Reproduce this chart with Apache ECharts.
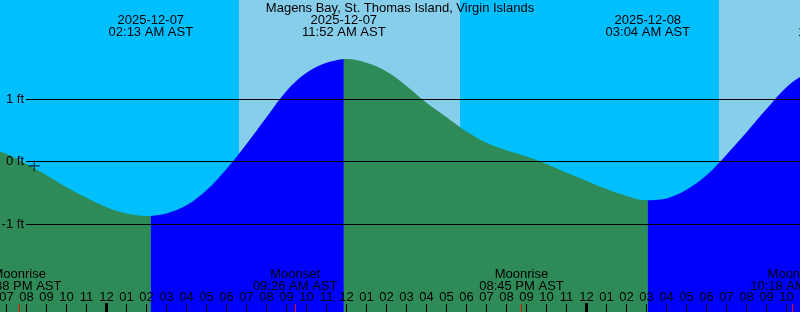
<!DOCTYPE html>
<html>
<head>
<meta charset="utf-8">
<script src="https://cdn.jsdelivr.net/npm/echarts@6.0.0/dist/echarts.min.js"></script>
<style>
html,body{margin:0;padding:0;background:#00BFFF;}
#chart{width:800px;height:312px;}
</style>
</head>
<body>
<div id="chart"></div>
<script>
// ---- Data (time in hours since 2025-12-07 00:00 AST, level in feet) ----
const stationName = 'Magens Bay, St. Thomas Island, Virgin Islands';
const tideHours = [-6,-5,-4,-3,-2,-1,0,1,2,3,4,5,6,7,8,9,10,11,12,13,14,15,16,17,18,19,20,21,22,23,24,25,26,27,28,29,30,31,32,33,34,35];
const tideLevels = [0.23,0.12,-0.04,-0.22,-0.41,-0.58,-0.73,-0.83,-0.87,-0.83,-0.70,-0.46,-0.12,0.28,0.71,1.13,1.42,1.58,1.64,1.58,1.44,1.21,0.94,0.71,0.48,0.30,0.18,0.08,-0.04,-0.18,-0.31,-0.44,-0.55,-0.62,-0.59,-0.45,-0.22,0.11,0.47,0.84,1.19,1.40];
const extremeTimes = [2.217, 11.867, 27.067, 36.683];
const extremeLevels = [-0.87, 1.64, -0.62, 1.52];
const extremeDates = ['2025-12-07','2025-12-07','2025-12-08','2025-12-08'];
const extremeClock = ['02:13 AM AST','11:52 AM AST','03:04 AM AST','12:41 PM AST'];
const moonTimes = [-4.367, 9.433, 20.75, 34.3];
const moonNames = ['Moonrise','Moonset','Moonrise','Moonset'];
const moonClock = ['07:38 PM AST','09:26 AM AST','08:45 PM AST','10:18 AM AST'];
const sunriseTimes = [6.625, 30.625];
const sunsetTimes = [17.675, 41.675];
const hourTicks = [-5,-4,-3,-2,-1,0,1,2,3,4,5,6,7,8,9,10,11,12,13,14,15,16,17,18,19,20,21,22,23,24,25,26,27,28,29,30,31,32,33,34];
const midnightTicks = [0, 24];
const levelTicks = [1, 0, -1];
const nowTime = -3.617;
const nowLevel = -0.07;

// ---- Axis ranges ----
const XMIN = -5.325, XMAX = 34.675;
const YMIN = -2.408, YMAX = 2.584;

const FONT = 'Liberation Sans';
const FS = 13;
const NIGHT = '#00BFFF', DAY = '#87CEEB', FALLING = '#2E8B57', RISING = '#0000FF';

function hourLabel(h) {
  let v = ((h % 12) + 12) % 12;
  if (v === 0) v = 12;
  return String(v).padStart(2, '0');
}

// Build tide segments split at extremes
const knots = [];
tideHours.forEach((h, i) => knots.push({h, v: tideLevels[i], ext: false}));
extremeTimes.forEach((h, i) => knots.push({h, v: extremeLevels[i], ext: true}));
knots.sort((a, b) => a.h - b.h);
const segments = [];
let cur = [];
knots.forEach(k => {
  cur.push([k.h, k.v]);
  if (k.ext) { segments.push(cur); cur = [[k.h, k.v]]; }
});
if (cur.length > 1) segments.push(cur);

const tideSeries = segments.map(seg => {
  const rising = seg[seg.length - 1][1] > seg[0][1];
  const c = rising ? RISING : FALLING;
  return {
    type: 'line', xAxisIndex: 0, yAxisIndex: 0, z: 2,
    data: seg, smooth: 0.35, symbol: 'none', silent: true,
    lineStyle: {width: 0, color: c},
    areaStyle: {color: c, opacity: 1, origin: 'start'},
    clip: true
  };
});

const dayAreas = sunriseTimes.map((s, i) => [{xAxis: Math.max(s, XMIN)}, {xAxis: Math.min(sunsetTimes[i], XMAX)}]);

function tickAxis(values, length, width, color, z, withLabels) {
  return {
    type: 'value', gridIndex: 0, min: XMIN, max: XMAX, z: z, position: 'bottom',
    axisLine: {show: false, onZero: false}, splitLine: {show: false},
    axisTick: {show: true, inside: true, length: length, customValues: values, lineStyle: {color: color, width: width}},
    axisLabel: withLabels
      ? {show: true, inside: true, margin: 8, customValues: values, formatter: hourLabel, color: '#000', fontSize: FS, fontFamily: FONT}
      : {show: false}
  };
}

const chart = echarts.init(document.getElementById('chart'), null, {renderer: 'canvas'});
chart.setOption({
  animation: false,
  backgroundColor: NIGHT,
  title: {
    text: stationName, left: 'center', top: 2, padding: 0,
    textStyle: {fontSize: FS, fontWeight: 'normal', color: '#000', fontFamily: FONT}
  },
  grid: [
    {left: 0, right: 0, top: 0, bottom: 0, containLabel: false, outerBoundsMode: 'none'},
    {left: 26, right: 0, top: 0, bottom: 0, containLabel: false, outerBoundsMode: 'none'}
  ],
  xAxis: [
    tickAxis(hourTicks, 8, 1, '#000', 10, true),
    tickAxis(midnightTicks, 9, 3, '#000', 11, false),
    tickAxis(moonTimes, 8, 1, '#FF0000', 11, false),
    {type: 'value', gridIndex: 1, min: 0, max: 1, show: false}
  ],
  yAxis: [
    {type: 'value', gridIndex: 0, min: YMIN, max: YMAX, show: false},
    {
      type: 'value', gridIndex: 1, min: YMIN, max: YMAX, z: 10,
      axisLine: {show: false, onZero: false},
      axisTick: {show: false, customValues: levelTicks},
      axisLabel: {show: true, margin: 2, customValues: levelTicks, formatter: v => v + ' ft',
        color: '#000', fontSize: FS, fontFamily: FONT},
      splitLine: {show: true, lineStyle: {color: '#000', width: 1}}
    }
  ],
  series: [
    {
      type: 'line', xAxisIndex: 0, yAxisIndex: 0, z: 1, data: [], silent: true,
      markArea: {silent: true, itemStyle: {color: DAY, opacity: 1}, data: dayAreas}
    },
    ...tideSeries,
    {
      type: 'scatter', xAxisIndex: 0, yAxisIndex: 0, z: 12, silent: true,
      data: [[nowTime, nowLevel]],
      symbol: 'path://M4.5,0h1v4.5h4.5v1h-4.5v4.5h-1v-4.5h-4.5v-1h4.5z',
      symbolSize: 11, itemStyle: {color: '#000'}
    },
    {
      type: 'custom', xAxisIndex: 0, yAxisIndex: 0, z: 12, silent: true, clip: false,
      data: extremeTimes.map((t, i) => [t, i]),
      renderItem: (params, api) => {
        const i = api.value(1);
        const p = api.coord([api.value(0), YMAX]);
        return {
          type: 'text', x: p[0], y: p[1] + 14,
          style: {text: extremeDates[i] + '\n' + extremeClock[i], align: 'center', verticalAlign: 'top',
            fontSize: FS, fontFamily: FONT, lineHeight: 12, fill: '#000'}
        };
      }
    },
    {
      type: 'custom', xAxisIndex: 0, yAxisIndex: 0, z: 12, silent: true, clip: false,
      data: moonTimes.map((t, i) => [t, i]),
      renderItem: (params, api) => {
        const i = api.value(1);
        const p = api.coord([api.value(0), YMIN]);
        return {
          type: 'text', x: p[0], y: p[1] - 20,
          style: {text: moonNames[i] + '\n' + moonClock[i], align: 'center', verticalAlign: 'bottom',
            fontSize: FS, fontFamily: FONT, lineHeight: 12, fill: '#000'}
        };
      }
    }
  ]
});
</script>
</body>
</html>
